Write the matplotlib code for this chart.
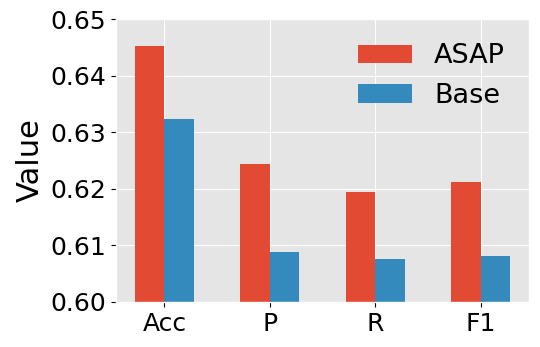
import matplotlib
matplotlib.use("Agg")
import matplotlib.pyplot as plt
import numpy as np

plt.style.use("ggplot")

categories = ["Acc", "P", "R", "F1"]
asap = [0.6452, 0.6244, 0.6194, 0.6212]
base = [0.6323, 0.6089, 0.6075, 0.6082]

fig, ax = plt.subplots(figsize=(5.4, 3.47), dpi=100)
x = np.arange(len(categories))
w = 0.28
ax.bar(x - w / 2, asap, w, label="ASAP", color="#E24A33")
ax.bar(x + w / 2, base, w, label="Base", color="#348ABD")
ax.set_ylim(0.60, 0.65)
ax.set_yticks([0.60, 0.61, 0.62, 0.63, 0.64, 0.65])
ax.set_xticks(x)
ax.set_xticklabels(categories)
ax.tick_params(axis="both", labelsize=18, colors="black")
ax.set_ylabel("Value", fontsize=22, color="black")
leg = ax.legend(fontsize=19.5, frameon=False, loc="upper right")
for t in leg.get_texts():
    t.set_color("black")
fig.subplots_adjust(left=0.215, right=0.98, top=0.945, bottom=0.13)
fig.savefig("out.png", dpi=100)
